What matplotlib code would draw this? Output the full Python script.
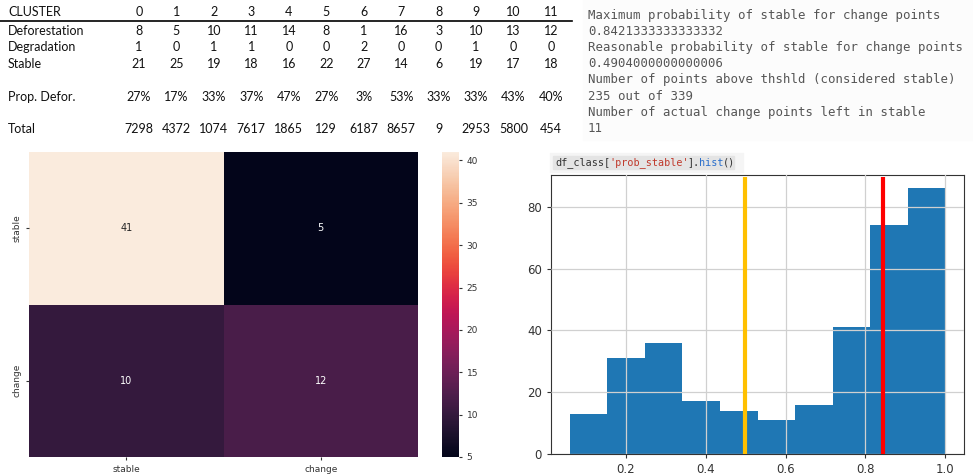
import numpy as np
import matplotlib.pyplot as plt
import seaborn as sns
from matplotlib.patches import Rectangle

# cluster summary table
clusters = ['0', '1', '2', '3', '4', '5', '6', '7', '8', '9', '10', '11']
deforestation = [8, 5, 10, 11, 14, 8, 1, 16, 3, 10, 13, 12]
degradation = [1, 0, 1, 1, 0, 0, 2, 0, 0, 1, 0, 0]
stable = [21, 25, 19, 18, 16, 22, 27, 14, 6, 19, 17, 18]
prop_defor = [27, 17, 33, 37, 47, 27, 3, 53, 33, 33, 43, 40]
totals = [7298, 4372, 1074, 7617, 1865, 129, 6187, 8657, 9, 2953, 5800, 454]

# notebook output
out_lines = [
    "Maximum probability of stable for change points",
    "0.8421333333333332",
    "Reasonable probability of stable for change points",
    "0.4904000000000006",
    "Number of points above thshld (considered stable)",
    "235 out of 339",
    "Number of actual change points left in stable",
    "11",
]

# confusion matrix
cm_labels = ['stable', 'change']
cm_values = [[41, 5], [10, 12]]

# histogram of prob_stable
prob_lo, prob_hi = 0.059, 1.0
hist_counts = [13, 31, 36, 17, 14, 11, 16, 41, 74, 86]
threshold_lines = [0.498, 0.844]
threshold_colors = ['#ffc000', '#ff0000']

W, H = 973, 475
fig = plt.figure(figsize=(W / 100, H / 100), dpi=100)


def px_axes(x0, y0, x1, y1):
    return fig.add_axes([x0 / W, 1 - y1 / H, (x1 - x0) / W, (y1 - y0) / H])


# ---- table (pixel coordinates on a full-figure overlay) ----
tab = fig.add_axes([0, 0, 1, 1])
tab.set_xlim(0, W)
tab.set_ylim(H, 0)
tab.axis('off')
tab.patch.set_alpha(0)

tfont = dict(family='Lato', fontsize=9, color='#111111', va='center')
col_x = np.linspace(139, 551, len(clusters))
rows = [
    ('CLUSTER', clusters, 12),
    ('Deforestation', deforestation, 31),
    ('Degradation', degradation, 47),
    ('Stable', stable, 64),
    ('Prop. Defor.', [f'{p}%' for p in prop_defor], 97),
    ('Total', totals, 129),
]
for name, vals, y in rows:
    tab.text(8, y, name, ha='left', **tfont)
    for x, v in zip(col_x, vals):
        tab.text(x, y, str(v), ha='center', **tfont)
tab.plot([0, 572], [21, 21], color='black', lw=1.2)

# ---- printed output ----
tab.add_patch(Rectangle((583, 0), 390, 140, color='#fcfcfc', zorder=0))
for i, line in enumerate(out_lines):
    tab.text(588, 15 + i * 16.2, line, family='DejaVu Sans Mono', fontsize=8.9,
             color='#555555', ha='left', va='center')

# code cell above the histogram
tab.add_patch(Rectangle((550, 153), 193, 19, color='#f5f5f5', zorder=0))
tab.add_patch(Rectangle((553, 156), 181, 13, color='#e4e4e4', zorder=0))
cx = 555
for part, c in [("df_class[", '#333333'), ("'prob_stable'", '#c0392b'),
                ("].", '#333333'), ("hist", '#2a6fcc'), ("()", '#333333')]:
    tab.text(cx, 162.5, part, family='DejaVu Sans Mono', fontsize=7.3,
             color=c, ha='left', va='center')
    cx += len(part) * 6.0

# ---- confusion matrix heatmap ----
ax_hm = px_axes(29, 152, 418, 457)
ax_cb = px_axes(442, 152, 459, 457)
sns.heatmap(np.array(cm_values), annot=True, fmt='d', ax=ax_hm, cbar_ax=ax_cb,
            xticklabels=cm_labels, yticklabels=cm_labels,
            annot_kws={'fontsize': 7})
ax_hm.tick_params(labelsize=6.5, colors='#333333', length=2)
ax_cb.tick_params(labelsize=6.5, colors='#333333', length=2)
ax_cb.set_yticks([5, 10, 15, 20, 25, 30, 35, 40])

# ---- histogram ----
ax_h = px_axes(551, 175, 964, 454)
edges = np.linspace(prob_lo, prob_hi, len(hist_counts) + 1)
centers = (edges[:-1] + edges[1:]) / 2
ax_h.hist(centers, bins=edges, weights=hist_counts, color='#1f77b4', zorder=1)
ax_h.grid(True, color='#d0d0d0', lw=0.9, zorder=2)
ax_h.set_axisbelow(False)
for x, c in zip(threshold_lines, threshold_colors):
    ax_h.vlines(x, 0, 89.5, color=c, lw=3, zorder=4)
ax_h.set_xticks([0.2, 0.4, 0.6, 0.8, 1.0])
ax_h.set_yticks([0, 20, 40, 60, 80])
ax_h.tick_params(labelsize=8.5, colors='#333333', length=3)
for s in ax_h.spines.values():
    s.set_color('#333333')
ax_h.set_ylim(0, 90.3)

fig.savefig('out.png', dpi=100)
